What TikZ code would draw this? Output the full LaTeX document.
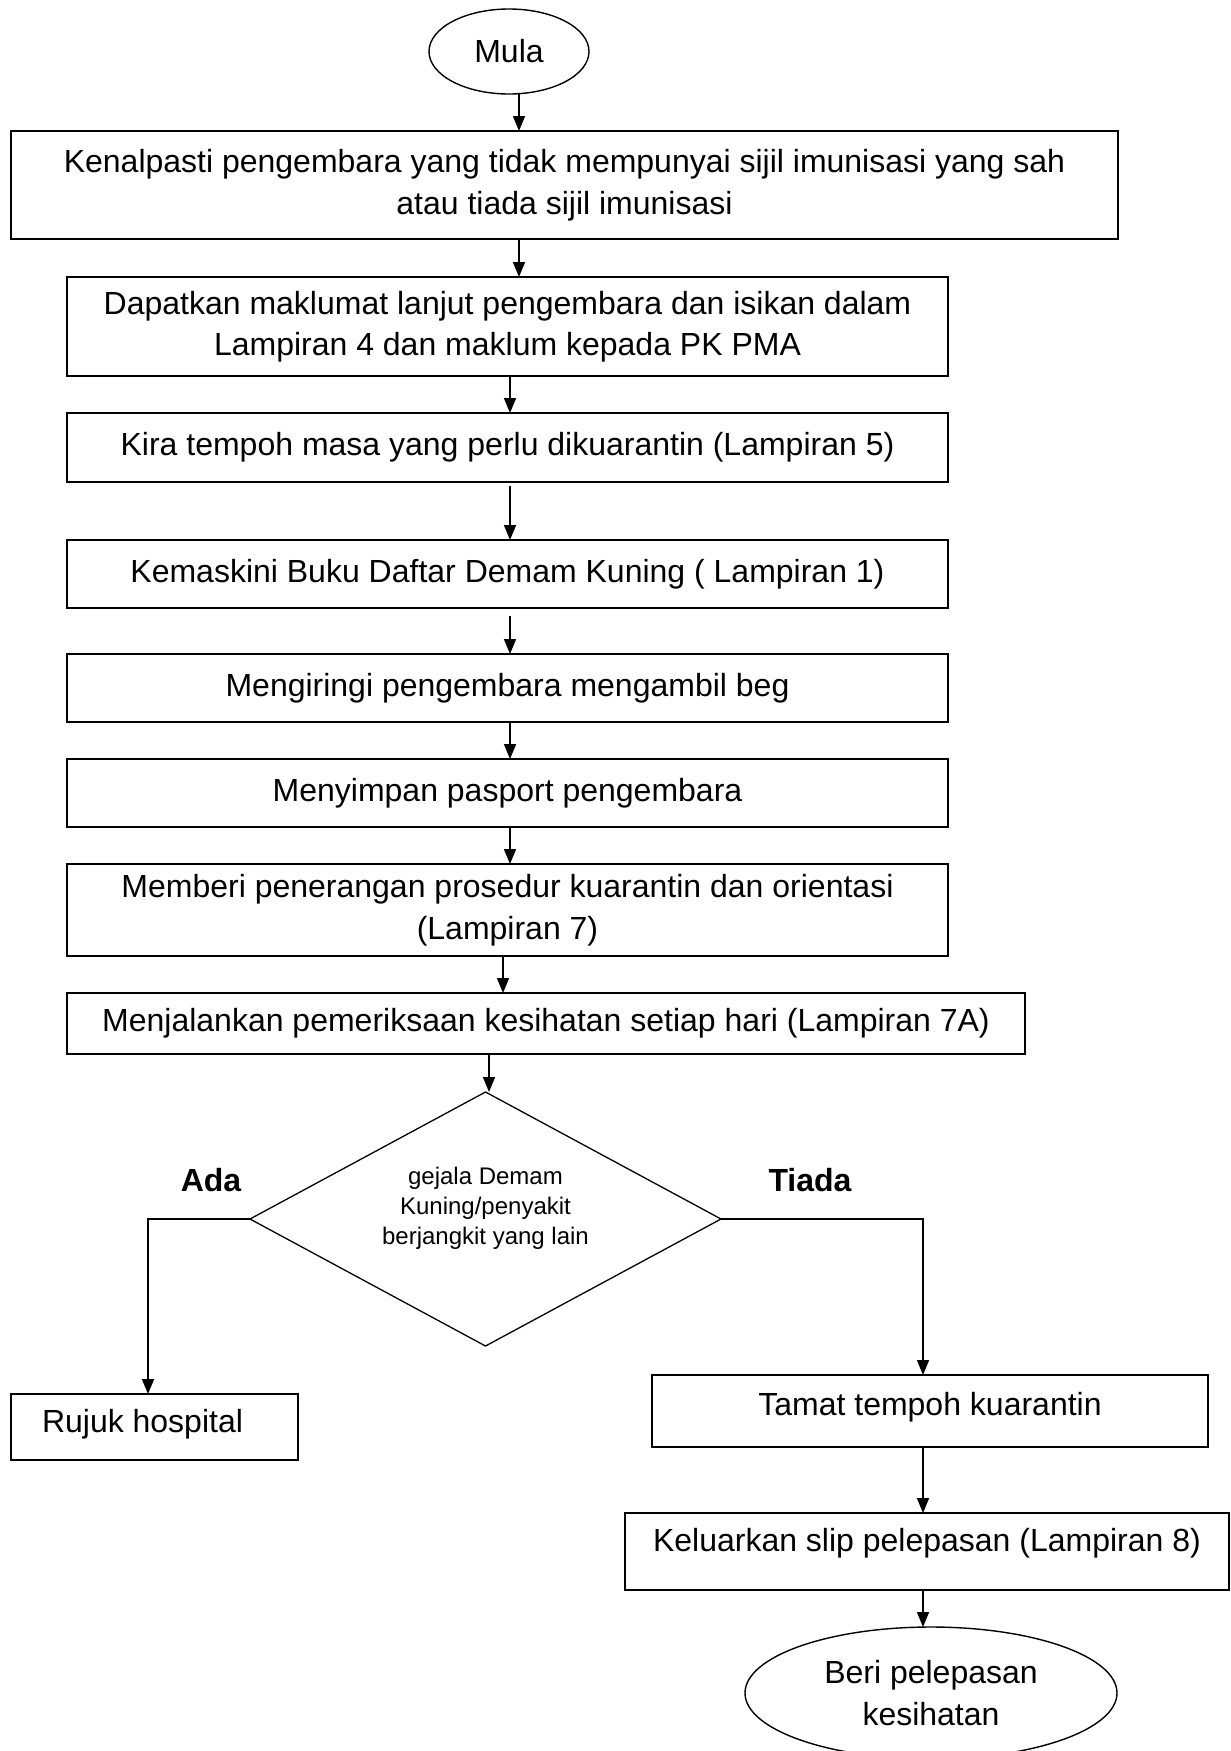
\documentclass[tikz,border=0pt]{standalone}
\usepackage{fontspec}
\setmainfont{Liberation Sans}
\usetikzlibrary{shapes.geometric,arrows.meta}
\begin{document}
\begin{tikzpicture}[x=1pt,y=-1pt,
  every node/.style={inner sep=0pt, outer sep=0pt},
  txt/.style={font=\fontsize{32}{41.5}\selectfont, align=center},
  procbox/.style={draw, line width=1.6pt, rectangle, txt},
  term/.style={draw, line width=1.4pt, ellipse, txt},
  decision/.style={draw, line width=1.3pt, diamond},
  lbl/.style={font=\fontsize{32}{36}\selectfont\bfseries},
  arr/.style={line width=1.6pt, -{Triangle[length=15pt,width=12pt]}},
  conn/.style={line width=1.6pt}
]
\useasboundingbox (0,0) rectangle (1231,1751);
\fill[white] (0,0) rectangle (1231,1751);

\node[term, minimum width=160pt, minimum height=85pt] (mula) at (509,51.5) {Mula};
\node[procbox, minimum width=1107pt, minimum height=108pt] (b1) at (564.5,185)
  {Kenalpasti pengembara yang tidak mempunyai sijil imunisasi yang sah\\atau tiada sijil imunisasi};
\node[procbox, minimum width=881pt, minimum height=99pt] (b2) at (507.5,326.5)
  {Dapatkan maklumat lanjut pengembara dan isikan dalam\\Lampiran 4 dan maklum kepada PK PMA};
\node[procbox, minimum width=881pt, minimum height=69pt] (b3) at (507.5,447.5)
  {Kira tempoh masa yang perlu dikuarantin (Lampiran 5)};
\node[procbox, minimum width=881pt, minimum height=68pt] (b4) at (507.5,574)
  {Kemaskini Buku Daftar Demam Kuning ( Lampiran 1)};
\node[procbox, minimum width=881pt, minimum height=68pt] (b5) at (507.5,688)
  {Mengiringi pengembara mengambil beg};
\node[procbox, minimum width=881pt, minimum height=68pt] (b6) at (507.5,793)
  {Menyimpan pasport pengembara};
\node[procbox, minimum width=881pt, minimum height=92pt] (b7) at (507.5,910)
  {Memberi penerangan prosedur kuarantin dan orientasi\\(Lampiran 7)};
\node[procbox, minimum width=958pt, minimum height=61pt] (b8) at (546,1023.5)
  {Menjalankan pemeriksaan kesihatan setiap hari (Lampiran 7A)};

\node[decision, minimum width=471pt, minimum height=254pt] (dia) at (485.5,1219) {};
\node[font=\fontsize{24}{30}\selectfont, align=center] (dtext) at (485.5,1208)
  {gejala Demam\\Kuning/penyakit\\berjangkit yang lain};

\node[lbl] (ada) at (211,1180) {Ada};
\node[lbl] (tiada) at (810,1180) {Tiada};

\node[procbox, minimum width=287pt, minimum height=66pt] (rujuk) at (154.5,1427) {};
\node[txt, anchor=west] (rujukt) at (42,1424) {Rujuk hospital};

\node[procbox, minimum width=556pt, minimum height=72pt] (tamat) at (930,1411) {};
\node[txt] (tamatt) at (930,1407) {Tamat tempoh kuarantin};

\node[procbox, minimum width=604pt, minimum height=77pt] (kel) at (927,1551.5) {};
\node[txt] (kelt) at (927,1543) {Keluarkan slip pelepasan (Lampiran 8)};

\node[term, minimum width=372pt, minimum height=132pt] (beri) at (931,1693)
  {Beri pelepasan\\kesihatan};

\draw[arr] (mula.south -| 519,0) -- (b1.north -| 519,0);
\draw[arr] (b1.south -| 519,0) -- (b2.north -| 519,0);
\draw[arr] (b2.south -| 510,0) -- (b3.north -| 510,0);
\draw[arr, shorten <=4pt] (b3.south -| 510,0) -- (b4.north -| 510,0);
\draw[arr, shorten <=8pt] (b4.south -| 510,0) -- (b5.north -| 510,0);
\draw[arr] (b5.south -| 510,0) -- (b6.north -| 510,0);
\draw[arr] (b6.south -| 510,0) -- (b7.north -| 510,0);
\draw[arr] (b7.south -| 503,0) -- (b8.north -| 503,0);
\draw[arr] (b8.south -| 489,0) -- (dia.north -| 489,0);

\draw[arr] (dia.west) -- (dia.west -| 148,0) -- (rujuk.north -| 148,0);
\draw[arr] (dia.east) -- (dia.east -| 923,0) -- (tamat.north -| 923,0);
\draw[arr] (tamat.south -| 923,0) -- (kel.north -| 923,0);
\draw[arr] (kel.south -| 923,0) -- (beri.north -| 923,0);
\end{tikzpicture}
\end{document}
